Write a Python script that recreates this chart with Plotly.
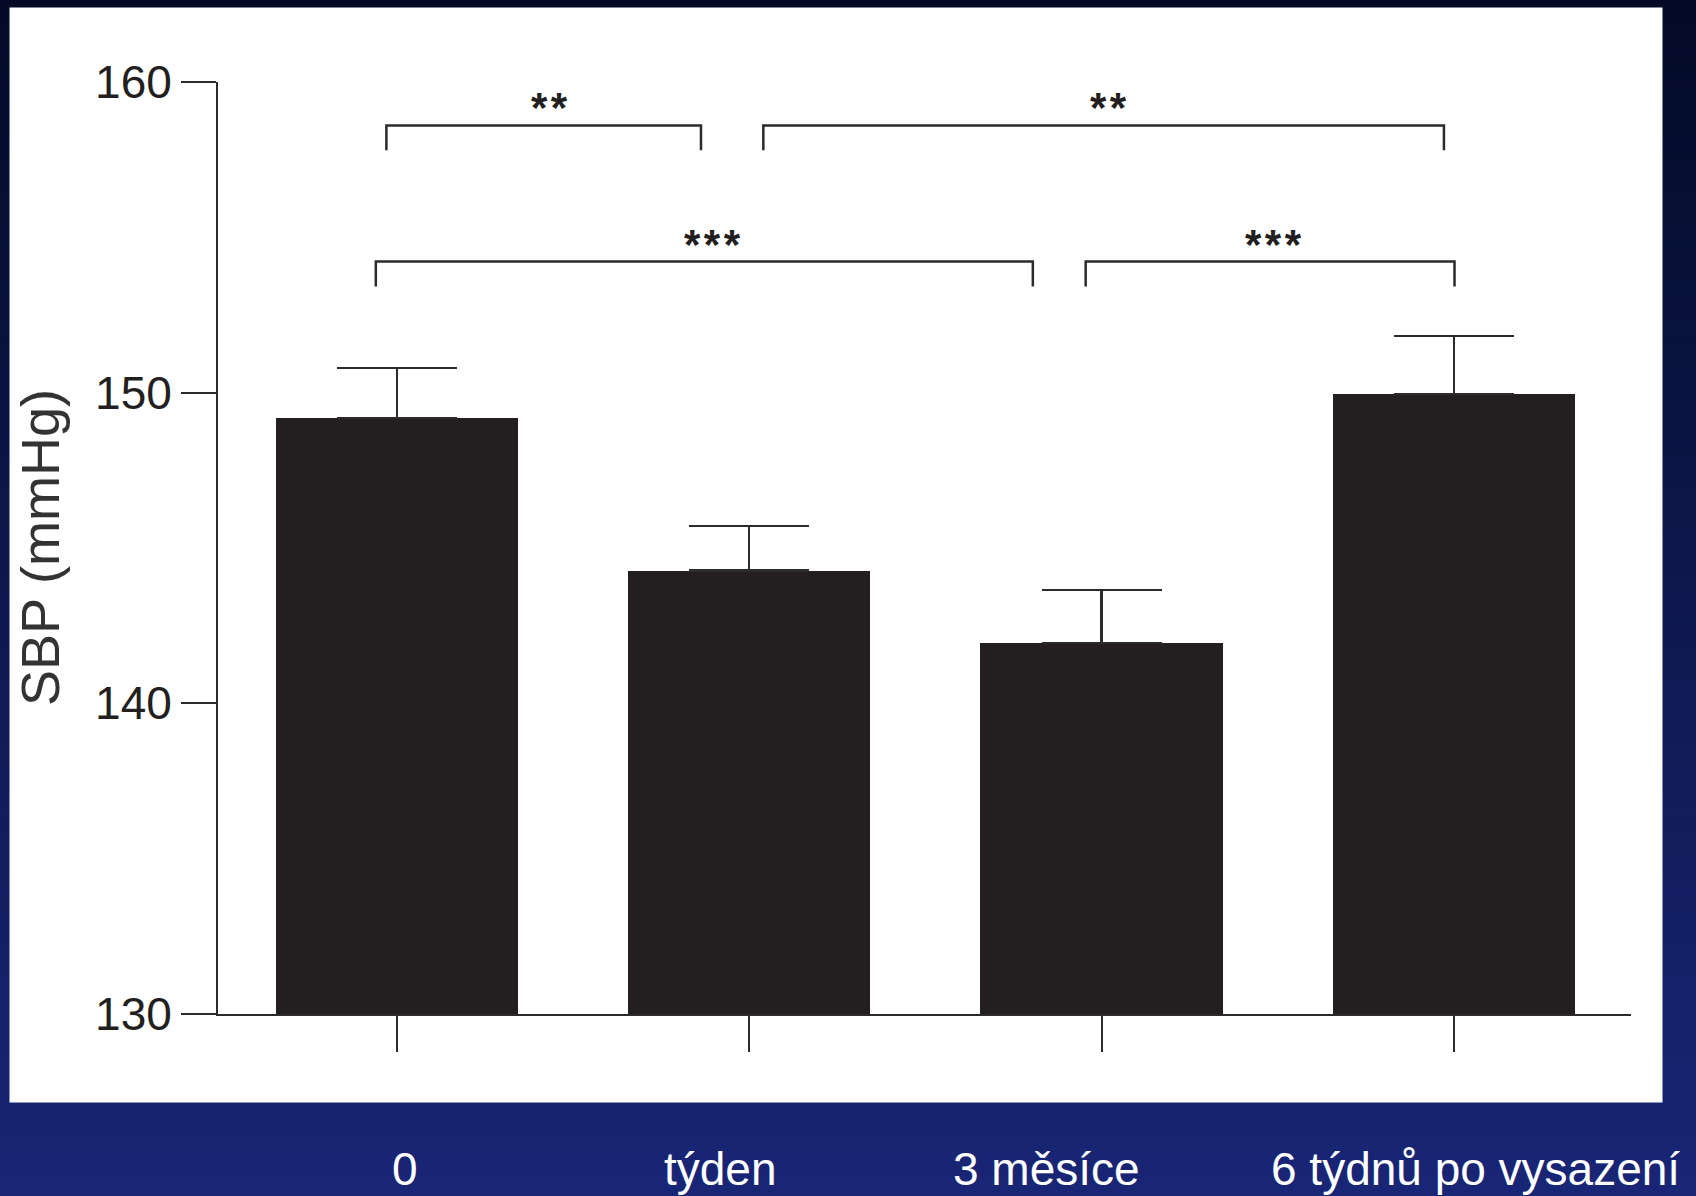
import plotly.graph_objects as go

# ---- data ----
categories = ["0", "týden", "3 měsíce", "6 týdnů po vysazení"]
sbp_mean = [149.18, 144.27, 141.95, 149.96]
sbp_err = [1.61, 1.44, 1.70, 1.87]

# significance brackets: (left category pos, right category pos, height)
bracket_left = [-0.03, 1.04, -0.06, 1.955]
bracket_right = [0.863, 2.972, 1.805, 3.002]
bracket_top = [158.6, 158.6, 154.22, 154.22]
bracket_drop = 0.8
bracket_label = ["**", "**", "***", "***"]
bracket_label_x = [0.434, 2.02, 0.897, 2.487]

y_ticks = [130, 140, 150, 160]

# ---- layout geometry ----
W, H = 1696, 1196
ML, MR, MT, MB = 218, 65, 82, 182
PW, PH = W - ML - MR, H - MT - MB


def px_to_paper_x(px):
    return (px - ML) / PW


def px_to_paper_y(py):
    return (H - MB - py) / PH


INK = "#231f20"
LINE = "#2b2b2b"
FONT = "Liberation Sans, Arial, Helvetica, sans-serif"

fig = go.Figure()

fig.add_trace(go.Bar(
    x=list(range(len(categories))),
    y=sbp_mean,
    width=0.688,
    marker=dict(color=INK, line=dict(width=0)),
    error_y=dict(type="data", array=sbp_err, arrayminus=[0] * len(sbp_err),
                 symmetric=False, color=LINE, thickness=2.5, width=60),
    showlegend=False,
    hoverinfo="skip",
))

# brackets
bx, by = [], []
for xl, xr, yt in zip(bracket_left, bracket_right, bracket_top):
    bx += [xl, xl, xr, xr, None]
    by += [yt - bracket_drop, yt, yt, yt - bracket_drop, None]
fig.add_trace(go.Scatter(x=bx, y=by, mode="lines",
                         line=dict(color=LINE, width=2.5),
                         showlegend=False, hoverinfo="skip", cliponaxis=False))

annotations = []
for lbl, lx, yt in zip(bracket_label, bracket_label_x, bracket_top):
    spaced = "\u200a".join(lbl)
    annotations.append(dict(x=lx, y=yt, xref="x", yref="y", text="<b>%s</b>" % spaced,
                            showarrow=False, yanchor="bottom", yshift=-8,
                            font=dict(family=FONT, size=42, color=INK)))

# category labels below the white panel
label_shift = [8, -29, -55, 22]
for i, (c, s) in enumerate(zip(categories, label_shift)):
    annotations.append(dict(x=i, y=0, xref="x", yref="paper", text=c,
                            showarrow=False, xanchor="center", yanchor="middle",
                            xshift=s, yshift=-155,
                            font=dict(family=FONT, size=46, color="white")))

# y-axis title
annotations.append(dict(x=px_to_paper_x(40), y=0.5, xref="paper", yref="paper",
                        text="SBP (mmHg)", textangle=-90, showarrow=False,
                        xanchor="center", yanchor="middle",
                        font=dict(family=FONT, size=54, color="#333333")))

# background gradient + white panel
shapes = []
top_rgb = (3, 10, 38)
bot_rgb = (25, 38, 118)
N = 120
for k in range(N):
    t = (k + 0.5) / N
    col = tuple(round(a + (b - a) * t) for a, b in zip(top_rgb, bot_rgb))
    y0 = k * H / N
    y1 = (k + 1) * H / N + 1
    shapes.append(dict(type="rect", xref="paper", yref="paper", layer="below",
                       x0=px_to_paper_x(0), x1=px_to_paper_x(W),
                       y0=px_to_paper_y(y1), y1=px_to_paper_y(y0),
                       fillcolor="rgb(%d,%d,%d)" % col, line=dict(width=0)))
shapes.append(dict(type="rect", xref="paper", yref="paper", layer="below",
                   x0=px_to_paper_x(9.5), x1=px_to_paper_x(1662.5),
                   y0=px_to_paper_y(1102.5), y1=px_to_paper_y(7.5),
                   fillcolor="white", line=dict(width=0)))

fig.update_layout(
    width=W, height=H,
    margin=dict(l=ML, r=MR, t=MT, b=MB, pad=0),
    paper_bgcolor="rgb(12,22,75)",
    plot_bgcolor="rgba(0,0,0,0)",
    shapes=shapes,
    annotations=annotations,
    bargap=0,
    xaxis=dict(range=[-0.508, 3.503], tickvals=list(range(len(categories))),
               showticklabels=False, ticks="outside", ticklen=36, tickwidth=2,
               tickcolor=LINE, showline=True, linewidth=2, linecolor=LINE,
               showgrid=False, zeroline=False, fixedrange=True),
    yaxis=dict(range=[130, 160], tickvals=y_ticks, ticktext=[str(v) for v in y_ticks],
               ticks="outside", ticklen=35, tickwidth=2, tickcolor=LINE,
               showline=True, linewidth=2, linecolor=LINE,
               showgrid=False, zeroline=False, fixedrange=True,
               tickfont=dict(family=FONT, size=46, color=INK)),
    font=dict(family=FONT),
)

fig.write_html("out.html", config={"displayModeBar": False},
               post_script="document.body.style.margin='0';")
